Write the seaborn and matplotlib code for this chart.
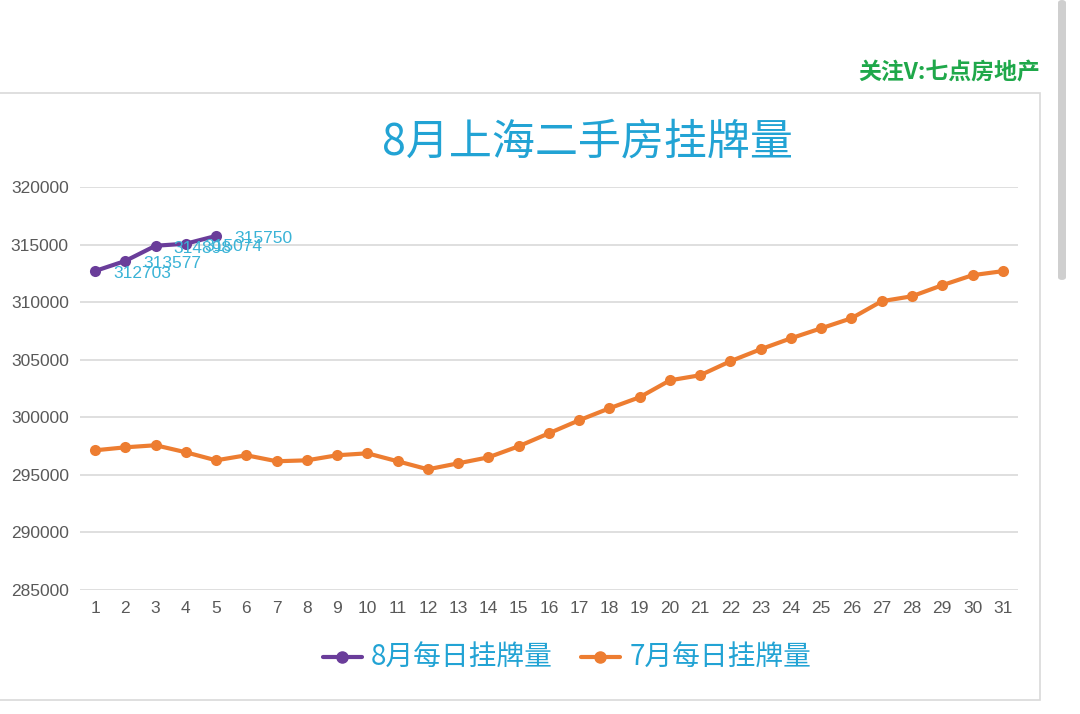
"""
8月上海二手房挂牌量 — 8月 vs 7月 每日挂牌量折线图。
"""
import matplotlib
matplotlib.use("Agg")
import matplotlib.pyplot as plt
import pandas as pd
import seaborn as sns
from matplotlib.patches import Rectangle, FancyBboxPatch

# ── 数据 ──────────────────────────────────────────────────────────────────────
DAYS_JUL = list(range(1, 32))
JUL_VALUES = [
    297130, 297390, 297570, 296960, 296260, 296700, 296180, 296260,
    296700, 296870, 296180, 295480, 296000, 296520, 297480, 298610,
    299740, 300780, 301740, 303210, 303650, 304870, 305910, 306860,
    307730, 308600, 310080, 310510, 311470, 312340, 312690,
]
DAYS_AUG = [1, 2, 3, 4, 5]
AUG_VALUES = [312703, 313577, 314898, 315074, 315750]

SERIES_AUG = "8月每日挂牌量"
SERIES_JUL = "7月每日挂牌量"
TITLE = "8月上海二手房挂牌量"
WATERMARK = "关注V:七点房地产"
Y_TICKS = [285000, 290000, 295000, 300000, 305000, 310000, 315000, 320000]

# ── 颜色 ──────────────────────────────────────────────────────────────────────
PURPLE = "#6A3D9A"
ORANGE = "#ED7D31"
TITLE_BLUE = "#22A3D4"
LABEL_CYAN = "#3AB3D6"
GRID = "#D9D9D9"
TICK_GRAY = "#595959"

sns.set_theme(style="white")
plt.rcParams["font.family"] = ["Noto Sans CJK SC", "DejaVu Sans"]
NUM_FONT = ["Liberation Sans", "DejaVu Sans"]

df = pd.concat([
    pd.DataFrame({"day": DAYS_AUG, "value": AUG_VALUES, "series": SERIES_AUG}),
    pd.DataFrame({"day": DAYS_JUL, "value": JUL_VALUES, "series": SERIES_JUL}),
], ignore_index=True)

fig = plt.figure(figsize=(10.8, 7.14), dpi=100)
ax = fig.add_axes([0.074, 0.1737, 0.8685, 0.5644])

sns.lineplot(
    data=df, x="day", y="value", hue="series",
    palette={SERIES_AUG: PURPLE, SERIES_JUL: ORANGE},
    marker="o", markersize=8, markeredgewidth=0, linewidth=3,
    ax=ax, legend=False,
)

# 8月数据标签（原图中 3、4 日标签本身即互相重叠）
for d, v in zip(DAYS_AUG, AUG_VALUES):
    ax.annotate(str(v), (d, v), xytext=(13, -2), textcoords="offset points",
                ha="left", va="center", fontsize=12.5, color=LABEL_CYAN,
                family=NUM_FONT)

ax.set_xlim(0.5, 31.5)
ax.set_ylim(285000, 320000)
ax.set_xticks(DAYS_JUL)
ax.set_yticks(Y_TICKS)
ax.set_yticklabels([str(t) for t in Y_TICKS])
ax.tick_params(axis="both", length=0, labelsize=12.5, labelcolor=TICK_GRAY, pad=8)
for lbl in ax.get_xticklabels() + ax.get_yticklabels():
    lbl.set_family(NUM_FONT)
ax.set_xlabel("")
ax.set_ylabel("")
ax.grid(axis="y", color=GRID, linewidth=1.2)
ax.grid(axis="x", visible=False)
for sp in ax.spines.values():
    sp.set_visible(False)

# 标题 / 水印
fig.text(0.544, 0.80, TITLE, ha="center", va="center", fontsize=31,
         fontweight="medium", color=TITLE_BLUE)
fig.text(0.963, 0.899, WATERMARK, ha="right", va="center", fontsize=16.5,
         fontweight="bold", color="#1FA84A")

# 图例
handles = [
    plt.Line2D([], [], color=PURPLE, marker="o", markersize=8, linewidth=3),
    plt.Line2D([], [], color=ORANGE, marker="o", markersize=8, linewidth=3),
]
leg = fig.legend(handles, [SERIES_AUG, SERIES_JUL], loc="center",
                 bbox_to_anchor=(0.525, 0.078), ncol=2, frameon=False,
                 fontsize=20, handlelength=1.4, columnspacing=1.0,
                 handletextpad=0.35)
for t in leg.get_texts():
    t.set_color(TITLE_BLUE)
    t.set_fontweight("medium")

# 图表外框与滚动条（截图细节）
fig.patches.append(Rectangle((-0.01, 1 - 700 / 714), 1040 / 1080 + 0.01,
                             (700 - 93) / 714, transform=fig.transFigure,
                             fill=False, edgecolor=GRID, linewidth=1.2))
fig.patches.append(FancyBboxPatch((1058 / 1080, 1 - 280 / 714), 8 / 1080,
                                  280 / 714, boxstyle="round,pad=0,rounding_size=0.004",
                                  transform=fig.transFigure,
                                  facecolor="#CFCFCF", edgecolor="none"))

fig.savefig("out.png", dpi=100, facecolor="white")
